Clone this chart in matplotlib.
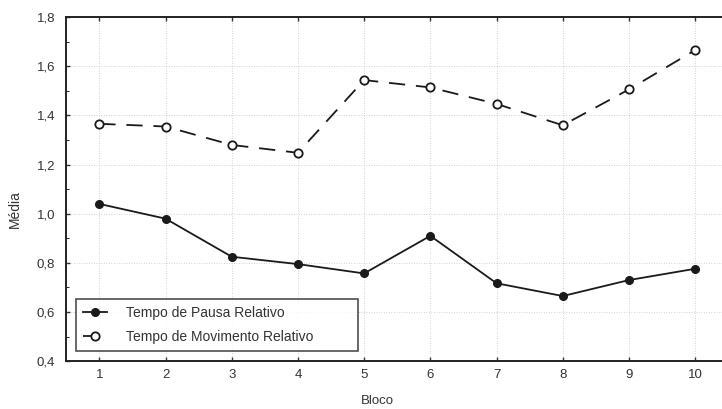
import matplotlib.pyplot as plt
from matplotlib.ticker import MultipleLocator, FuncFormatter

plt.rcParams["font.family"] = ["Liberation Sans", "DejaVu Sans"]

blocos = [1, 2, 3, 4, 5, 6, 7, 8, 9, 10]
pausa = [1.04, 0.98, 0.825, 0.795, 0.757, 0.91, 0.717, 0.665, 0.73, 0.776]
movimento = [1.366, 1.355, 1.28, 1.248, 1.544, 1.514, 1.447, 1.36, 1.506, 1.666]

fig = plt.figure(figsize=(7.22, 4.09), dpi=100)
ax = fig.add_axes([0.0917, 0.117, 0.917, 0.841])

ax.plot(blocos, pausa, color="#1a1a1a", lw=1.3, marker="o", ms=5.5,
        mfc="#1a1a1a", mec="#1a1a1a", label="Tempo de Pausa Relativo", zorder=3)
ax.plot(blocos, movimento, color="#1a1a1a", lw=1.3, dashes=(9, 6), marker="o", ms=6,
        mfc="white", mec="#1a1a1a", mew=1.3, label="Tempo de Movimento Relativo", zorder=3)

ax.set_xlim(0.5, 10.5)
ax.set_ylim(0.4, 1.8)
ax.set_xticks(blocos)
ax.yaxis.set_major_locator(MultipleLocator(0.2))
ax.yaxis.set_minor_locator(MultipleLocator(0.1))
ax.yaxis.set_major_formatter(FuncFormatter(lambda v, p: f"{v:.1f}".replace(".", ",")))
ax.tick_params(direction="in", length=3, width=1, labelsize=9.5, colors="#333333",
               top=True)
ax.tick_params(axis="x", pad=6)
ax.tick_params(axis="y", pad=8)
ax.tick_params(which="minor", direction="in", length=2, left=True)
ax.grid(True, color="#c4c4c4", lw=0.6, ls=(0, (1, 2)))

for s in ax.spines.values():
    s.set_linewidth(1.4)
    s.set_color("#222222")

fig.text(0.02, 0.49, "Média", rotation=90, ha="center", va="center",
         fontsize=10, color="#333333")
fig.text(0.523, 0.004, "Bloco", ha="center", va="bottom", fontsize=9.5, color="#333333")

leg = ax.legend(loc="lower left", bbox_to_anchor=(0.0148, 0.029, 0.426, 0.14),
                mode="expand", fontsize=10, frameon=True, fancybox=False,
                edgecolor="#222222", handlelength=1.7, borderpad=0.5,
                labelspacing=0.75, handletextpad=1.4, borderaxespad=0)
leg.get_frame().set_linewidth(1.2)
leg.set_zorder(5)
for t in leg.get_texts():
    t.set_color("#333333")

fig.savefig("out.png", dpi=100)
